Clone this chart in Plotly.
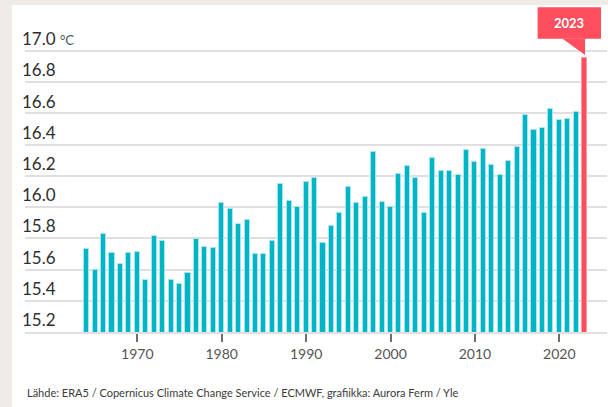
import plotly.graph_objects as go

years = list(range(1964, 2024))
temps = [15.73, 15.60, 15.825, 15.705, 15.636, 15.705, 15.715, 15.53, 15.814, 15.784,
         15.536, 15.506, 15.579, 15.797, 15.745, 15.735, 16.026, 15.989, 15.89, 15.918,
         15.698, 15.698, 15.783, 16.145, 16.039, 15.998, 16.158, 16.188, 15.77, 15.879,
         15.96, 16.13, 16.026, 16.062, 16.355, 16.032, 15.998, 16.21, 16.264, 16.185,
         15.96, 16.312, 16.233, 16.234, 16.206, 16.369, 16.286, 16.375, 16.273, 16.206,
         16.298, 16.386, 16.59, 16.496, 16.509, 16.63, 16.557, 16.564, 16.611, 16.955]
y_ticks = [15.2, 15.4, 15.6, 15.8, 16.0, 16.2, 16.4, 16.6, 16.8, 17.0]
y_ticktext = ["15.2", "15.4", "15.6", "15.8", "16.0", "16.2", "16.4", "16.6", "16.8",
              "17.0 <span style='font-size:13px;color:#4a5560'>°C</span>"]
x_ticks = [1970, 1980, 1990, 2000, 2010, 2020]
highlight_label = "2023"
source = "Lähde: ERA5 / Copernicus Climate Change Service / ECMWF, grafiikka: Aurora Ferm / Yle"

TEAL = "#00b5c6"
RED = "#ff4f5e"
BEIGE = "#efebe6"

colors = [TEAL] * (len(years) - 1) + [RED]
lines = ["#a6e6ec"] * (len(years) - 1) + ["#ff9aa3"]

y_min = 15.2
px_per_unit = 156.1

fig = go.Figure()
fig.add_trace(go.Bar(
    x=years, y=temps, width=0.6,
    marker=dict(color=colors, line=dict(color=lines, width=1)),
    hoverinfo="x+y",
))
# small tick marks under the baseline at each labelled year
fig.add_trace(go.Scatter(
    x=x_ticks, y=[y_min - 4.5 / px_per_unit] * len(x_ticks), mode="markers",
    marker=dict(symbol="line-ns", size=8, line=dict(width=1.5, color="#808080")),
    cliponaxis=False, hoverinfo="skip",
))

last_year = years[-1]
last_val = temps[-1]
box_y0 = last_val + 0.123
box_y1 = last_val + 0.326

shapes = [
    # white card on beige page
    dict(type="rect", xref="paper", yref="paper", x0=-0.0223, x1=1.1, y0=-0.3, y1=1.0062,
         fillcolor="white", line=dict(width=0), layer="below"),
    # callout box
    dict(type="rect", xref="x", yref="y", x0=last_year - 5.57, x1=last_year + 1.94,
         y0=box_y0, y1=box_y1, fillcolor=RED, line=dict(width=0), layer="above"),
    dict(type="path", xref="x", yref="y",
         path=f"M {last_year - 2.65},{box_y0 + 0.002} L {last_year + 0.05},{box_y0 + 0.002} "
              f"L {last_year + 0.05},{last_val + 0.02} Z",
         fillcolor=RED, line=dict(width=0), layer="above"),
]

annotations = [
    dict(x=(last_year - 5.57 + last_year + 1.94) / 2, y=(box_y0 + box_y1) / 2,
         xref="x", yref="y", text=f"<b>{highlight_label}</b>", showarrow=False,
         font=dict(family="Lato", size=13, color="white"), xanchor="center", yanchor="middle"),
    dict(x=-0.0006, y=-0.187, xref="paper", yref="paper", text=source, showarrow=False,
         xanchor="left", yanchor="middle", font=dict(family="Lato", size=11, color="#3a3a3a")),
]

fig.update_layout(
    width=608, height=407,
    margin=dict(l=25, r=1, t=7, b=75, autoexpand=False),
    paper_bgcolor=BEIGE, plot_bgcolor="white",
    showlegend=False, bargap=0,
    font=dict(family="Lato", color="#333"),
    shapes=shapes, annotations=annotations,
    xaxis=dict(range=[1956.69, 2025.65], tickmode="array", tickvals=x_ticks,
               ticks="outside", ticklen=8, tickwidth=2, tickcolor="#6e6e6e",
               showticklabels=True, showgrid=False, zeroline=False,
               showline=True, linecolor="#e0e0e0", linewidth=2, automargin=False,
               tickfont=dict(family="Lato", size=14, color="#555")),
    yaxis=dict(range=[y_min, y_min + 325 / px_per_unit], tickvals=y_ticks, ticktext=y_ticktext,
               ticklabelposition="inside top", ticklabelstandoff=-6,
               showgrid=True, gridcolor="#e0e0e0", automargin=False,
               gridwidth=2, zeroline=False, showline=False, ticks="",
               tickfont=dict(family="Lato", size=17, color="#2e2e2e")),
)

fig.write_html(
    "out.html",
    config={"displayModeBar": False},
    post_script="document.body.style.margin='0';document.body.style.padding='0';"
                "document.documentElement.style.margin='0';",
)
